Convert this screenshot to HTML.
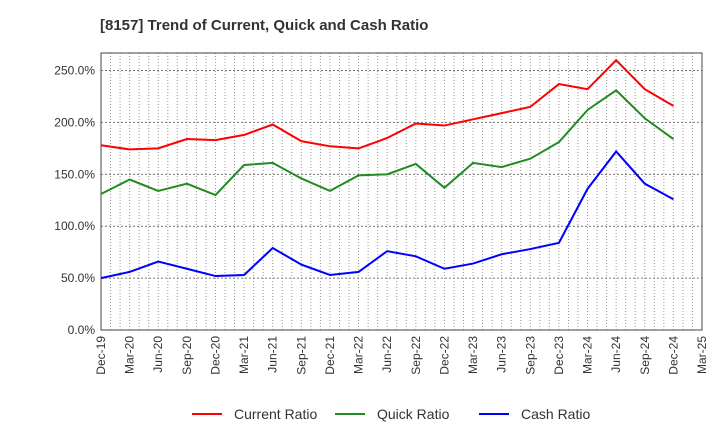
<!DOCTYPE html>
<html><head><meta charset="utf-8"><style>
body{margin:0;background:#fff;font-family:"Liberation Sans",sans-serif;}
</style></head><body>
<svg width="720" height="440" xmlns="http://www.w3.org/2000/svg">
<text x="100" y="30" font-size="15" font-weight="bold" fill="#333">[8157]  Trend of Current, Quick and Cash Ratio</text>
<g id="grid"></g><g id="axes"></g><g id="series"></g><g id="legend"></g>
</svg>
<script>
const categories=["Dec-19","Mar-20","Jun-20","Sep-20","Dec-20","Mar-21","Jun-21","Sep-21","Dec-21","Mar-22","Jun-22","Sep-22","Dec-22","Mar-23","Jun-23","Sep-23","Dec-23","Mar-24","Jun-24","Sep-24","Dec-24","Mar-25"];
const currentRatio=[178,174,175,184,183,188,198,182,177,175,185,199,197,203,209,215,237,232,260,232,216];
const quickRatio=[131,145,134,141,130,159,161,146,134,149,150,160,137,161,157,165,181,212,231,204,184];
const cashRatio=[50,56,66,59,52,53,79,63,53,56,76,71,59,64,73,78,84,136,172,141,126];
const yTicks=[0,50,100,150,200,250];
const L=101,R=702,T=53,B=330,ymax=266.9;
const NS="http://www.w3.org/2000/svg";
const xs=i=>L+(R-L)*i/(categories.length-1);
const ys=v=>B-(B-T)*v/ymax;
function mk(tag,at,parent){const e=document.createElementNS(NS,tag);for(const k in at)e.setAttribute(k,at[k]);document.getElementById(parent).appendChild(e);return e;}
// minor monthly grid
for(let m=1;m<(categories.length-1)*3;m++){const x=L+(R-L)*m/((categories.length-1)*3);
const g=mk('line',{x1:x,x2:x,y1:T,y2:B,stroke:'#999','stroke-width':1,'stroke-dasharray':'1,2'},'grid');

}
yTicks.forEach(v=>{const y=ys(v);
const g=mk('line',{x1:L,x2:R,y1:y,y2:y,stroke:'#777','stroke-width':1,'stroke-dasharray':'2,2'},'grid');


const t=mk('text',{x:L-6,y:y+4,'text-anchor':'end','font-size':12,fill:'#333'},'axes');t.textContent=v.toFixed(1)+'%';

});
categories.forEach((c,i)=>{const x=xs(i);
const t=mk('text',{transform:`translate(${x+4},${B+6}) rotate(-90)`,'text-anchor':'end','font-size':12,fill:'#333'},'axes');t.textContent=c;

});
const fr=mk('rect',{x:L,y:T,width:R-L,height:B-T,fill:'none',stroke:'#444','stroke-width':1},'axes');


const series=[["current-ratio-line",currentRatio,"#ff0000","Current Ratio"],["quick-ratio-line",quickRatio,"#228b22","Quick Ratio"],["cash-ratio-line",cashRatio,"#0000ff","Cash Ratio"]];
series.forEach(([n,d,c])=>{const p=mk('polyline',{points:d.map((v,i)=>xs(i)+','+ys(v)).join(' '),fill:'none',stroke:c,'stroke-width':2},'series');

});
const lx=[192,335,479];
series.forEach(([n,d,c,label],k)=>{
const l=mk('line',{x1:lx[k],x2:lx[k]+30,y1:414,y2:414,stroke:c,'stroke-width':2},'legend');


const t=mk('text',{x:lx[k]+42,y:419,'font-size':14,fill:'#333'},'legend');t.textContent=label;

});
</script>
</body></html>
